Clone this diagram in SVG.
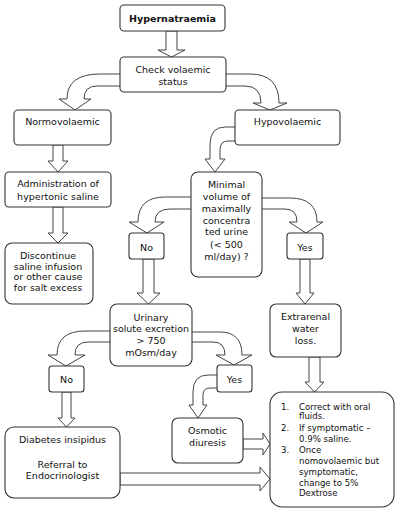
<svg xmlns="http://www.w3.org/2000/svg" width="400" height="513" viewBox="0 0 400 513">
<style>
.box{fill:#fff;stroke:#333;stroke-width:1.1}
.arr{fill:#fff;stroke:#444;stroke-width:1}
text{font-family:"DejaVu Sans",Verdana,sans-serif;font-size:9.5px;fill:#111;text-anchor:middle}
.b{font-weight:bold}
.s{font-size:8.6px;text-anchor:start}
</style>
<rect width="400" height="513" fill="#fff"/>
<g id="connectors">
<polygon class="arr" points="166,31 166,50 158,50 171.5,57 185,50 177,50 177,31"/>
<path class="arr" d="M120,74 L100,74 Q67,74 67,99 L59,99 L75,110 L91,99 L84,99 Q84,86 97,86 L120,86"/>
<path class="arr" d="M226,74 L250,74 Q279,74 279,103 L287,103 L270,110 L253,103 L261,103 Q261,86 245,86 L226,86"/>
<polygon class="arr" points="53,145 53,161 48,161 58,172 68,161 63,161 63,145"/>
<polygon class="arr" points="53,207 53,233 48,233 58,243 68,233 63,233 63,207"/>
<path class="arr" d="M235,127 L225,127 Q210,127 210,145 L210,159 L205,159 L215,172 L225,159 L220,159 L220,150 Q220,141 228,141 L235,141"/>
<path class="arr" d="M191,197 L165,197 Q138,197 138,222 L129,222 L147,233 L164,222 L155,222 Q155,209 170,209 L191,209"/>
<path class="arr" d="M262,198 L290,198 Q317,198 317,222 L323,222 L306,233 L289,222 L297,222 Q297,209 285,209 L262,209"/>
<polygon class="arr" points="143,259 143,293 137,293 148.5,304 160,293 154,293 154,259"/>
<polygon class="arr" points="300,259 300,293 296,293 305,304 314,293 310,293 310,259"/>
<path class="arr" d="M110,331 L85,331 Q57,331 57,355 L48,355 L66,366 L85,355 L75,355 Q75,342 88,342 L110,342"/>
<path class="arr" d="M192,332 L220,332 Q242,332 242,355 L252,355 L234,365 L216,355 L225,355 Q225,342 213,342 L192,342"/>
<path class="arr" d="M217,375 L208,375 Q193,375 193,392 L193,405 L189,405 L198,418 L207,405 L203,405 L203,395 Q203,388 210,388 L217,388"/>
<polygon class="arr" points="62,392 62,418 58,418 66.5,427 75,418 71,418 71,392"/>
<polygon class="arr" points="309,357 309,382 305,382 314.5,392 324,382 320,382 320,357"/>
<polygon class="arr" points="243,439 263,439 263,433 270,444 263,455 263,449 243,449"/>
<polygon class="arr" points="120,473 260,473 260,467 270,479 260,491 260,485 120,485"/>
</g>
<g id="hypernatraemia"><rect class="box" x="120" y="5" width="105" height="26" rx="4"/><text class="b" x="172.5" y="22">Hypernatraemia</text></g>
<g id="check"><rect class="box" x="120" y="57" width="106" height="35" rx="4"/><text x="173" y="73">Check volaemic</text><text x="173" y="85">status</text></g>
<g id="normovolaemic"><rect class="box" x="14" y="110" width="97" height="35" rx="4"/><text x="62.5" y="125">Normovolaemic</text></g>
<g id="hypovolaemic"><rect class="box" x="235" y="110" width="105" height="35" rx="4"/><text x="287.5" y="125">Hypovolaemic</text></g>
<g id="administration"><rect class="box" x="5" y="172" width="106" height="35" rx="4"/><text x="58" y="187">Administration of</text><text x="58" y="200">hypertonic saline</text></g>
<g id="discontinue"><rect class="box" x="5" y="243" width="88" height="61" rx="7"/><text x="48" y="259">Discontinue</text><text x="48" y="269.5">saline infusion</text><text x="48" y="280">or other cause</text><text x="48" y="290.5">for salt excess</text></g>
<g id="minimal"><rect class="box" x="191" y="172" width="71" height="105" rx="7"/><text x="226.5" y="188">Minimal</text><text x="226.5" y="200">volume of</text><text x="226.5" y="212">maximally</text><text x="226.5" y="223.5">concentra</text><text x="226.5" y="235">ted urine</text><text x="226.5" y="248">(&lt; 500</text><text x="226.5" y="260">ml/day) ?</text></g>
<g id="no1"><rect class="box" x="129" y="233" width="35" height="26" rx="3"/><text x="146.5" y="250.5">No</text></g>
<g id="yes1"><rect class="box" x="287" y="233" width="36" height="26" rx="3"/><text x="305" y="250.5">Yes</text></g>
<g id="urinary"><rect class="box" x="110" y="304" width="82" height="62" rx="7"/><text x="151" y="320.5">Urinary</text><text x="151" y="332">solute excretion</text><text x="151" y="344">&gt; 750</text><text x="151" y="356">mOsm/day</text></g>
<g id="extrarenal"><rect class="box" x="270" y="304" width="71" height="53" rx="6"/><text x="305.5" y="320">Extrarenal</text><text x="305.5" y="332">water</text><text x="305.5" y="344">loss.</text></g>
<g id="no2"><rect class="box" x="49" y="366" width="35" height="26" rx="3"/><text x="66.5" y="382.5">No</text></g>
<g id="yes2"><rect class="box" x="217" y="365" width="35" height="27" rx="3"/><text x="234.5" y="382.5">Yes</text></g>
<g id="osmotic"><rect class="box" x="172" y="418" width="71" height="45" rx="6"/><text x="207.5" y="433.5">Osmotic</text><text x="207.5" y="445.5">diuresis</text></g>
<g id="diabetes"><rect class="box" x="5" y="427" width="115" height="71" rx="9"/><text x="62.5" y="443">Diabetes insipidus</text><text x="62.5" y="468">Referral to</text><text x="62.5" y="479">Endocrinologist</text></g>
<g id="treatment"><rect class="box" x="270" y="392" width="124" height="115" rx="12"/>
<text class="s" x="281" y="410">1.</text><text class="s" x="299" y="410">Correct with oral</text>
<text class="s" x="299" y="419">fluids.</text>
<text class="s" x="281" y="431">2.</text><text class="s" x="299" y="431">If symptomatic –</text>
<text class="s" x="299" y="442">0.9% saline.</text>
<text class="s" x="281" y="453">3.</text><text class="s" x="299" y="453">Once</text>
<text class="s" x="299" y="464">nomovolaemic but</text>
<text class="s" x="299" y="475">symptomatic,</text>
<text class="s" x="299" y="486">change to 5%</text>
<text class="s" x="299" y="496">Dextrose</text>
</g>
</svg>
